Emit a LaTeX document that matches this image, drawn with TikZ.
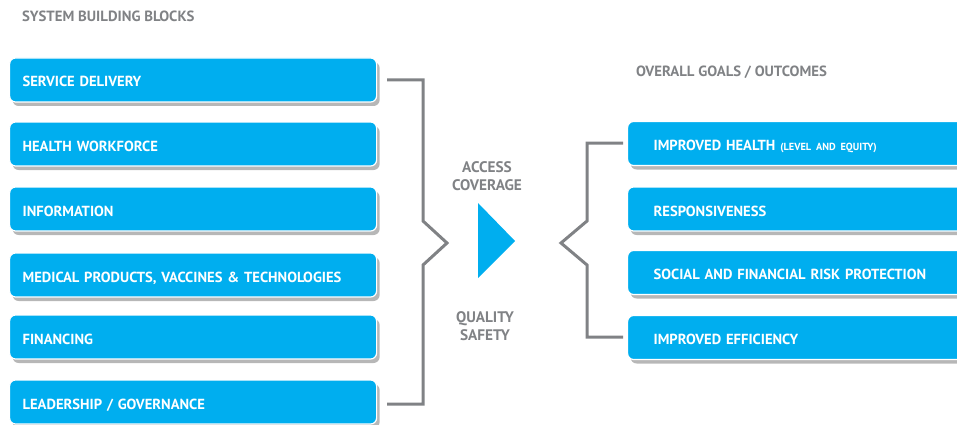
\documentclass[tikz,border=0pt]{standalone}
\usepackage{fontspec}
\setmainfont{PT Sans}
\usetikzlibrary{shadows}
\definecolor{boxblue}{HTML}{00AEEF}
\definecolor{txtgrey}{HTML}{808285}
\definecolor{lngrey}{HTML}{808285}
\tikzset{
  blockbox/.style={fill=boxblue, draw=white, line width=1.2pt, rounded corners=6pt,
    minimum height=44pt, text=white, font=\bfseries\fontsize{14.6}{16}\selectfont,
    anchor=west, align=left, text height=14pt, text depth=0pt,
    drop shadow={shadow xshift=3pt, shadow yshift=-4pt, opacity=0.4, fill=black!70}},
  leftbox/.style={blockbox, inner xsep=13pt, minimum width=367pt, text width=341pt},
  rightbox/.style={blockbox, inner xsep=26pt, minimum width=360pt, text width=308pt},
  bracket/.style={draw=lngrey, line width=3pt},
  greylabel/.style={text=txtgrey, font=\bfseries\fontsize{15.3}{18}\selectfont, align=center},
  headlabel/.style={text=txtgrey, font=\bfseries\fontsize{14.8}{17}\selectfont, anchor=west}
}
\begin{document}
\begin{tikzpicture}[x=1pt,y=-1pt]
\useasboundingbox (0,0) rectangle (957,425);
\clip (0,0) rectangle (957,425);
\node[headlabel] (h1) at (18.5,16) {SYSTEM BUILDING BLOCKS};
\node[headlabel] (h2) at (632.5,72) {OVERALL GOALS / OUTCOMES};

\node[leftbox] (b1) at (9,80) {SERVICE DELIVERY};
\node[leftbox] (b2) at (9,144) {HEALTH WORKFORCE};
\node[leftbox] (b3) at (9,209) {INFORMATION};
\node[leftbox] (b4) at (9,275) {MEDICAL PRODUCTS, VACCINES \& TECHNOLOGIES};
\node[leftbox] (b5) at (9,337) {FINANCING};
\node[leftbox] (b6) at (9,402) {LEADERSHIP / GOVERNANCE};

\node[rightbox] (r1) at (627,143.5) {IMPROVED HEALTH {\fontsize{10.3}{12}\selectfont (LEVEL AND EQUITY)}};
\node[rightbox] (r2) at (627,209) {RESPONSIVENESS};
\node[rightbox] (r3) at (627,272.5) {SOCIAL AND FINANCIAL RISK PROTECTION};
\node[rightbox] (r4) at (627,337.5) {IMPROVED EFFICIENCY};

% left bracket
\coordinate (lt) at (387,80);
\coordinate (lb) at (387,404);
\coordinate (lp) at (447,243);
\draw[bracket, line join=miter] (lt) -- (423,80) -- (423,221) -- (lp) -- (423,265) -- (423,404) -- (lb);

% right bracket
\coordinate (rt) at (623,143);
\coordinate (rb) at (623,337);
\coordinate (rp) at (561,243);
\draw[bracket, line join=miter] (rt) -- (587,143) -- (587,221) -- (rp) -- (587,265) -- (587,337) -- (rb);

% triangle
\coordinate (ta) at (478,203);
\coordinate (tb) at (478,278);
\coordinate (tc) at (515,241);
\fill[boxblue] (ta) -- (tc) -- (tb) -- cycle;

\node[greylabel] (acc) at (487,176) {ACCESS\\COVERAGE};
\node[greylabel] (qual) at (485,326) {QUALITY\\SAFETY};
\end{tikzpicture}
\end{document}
